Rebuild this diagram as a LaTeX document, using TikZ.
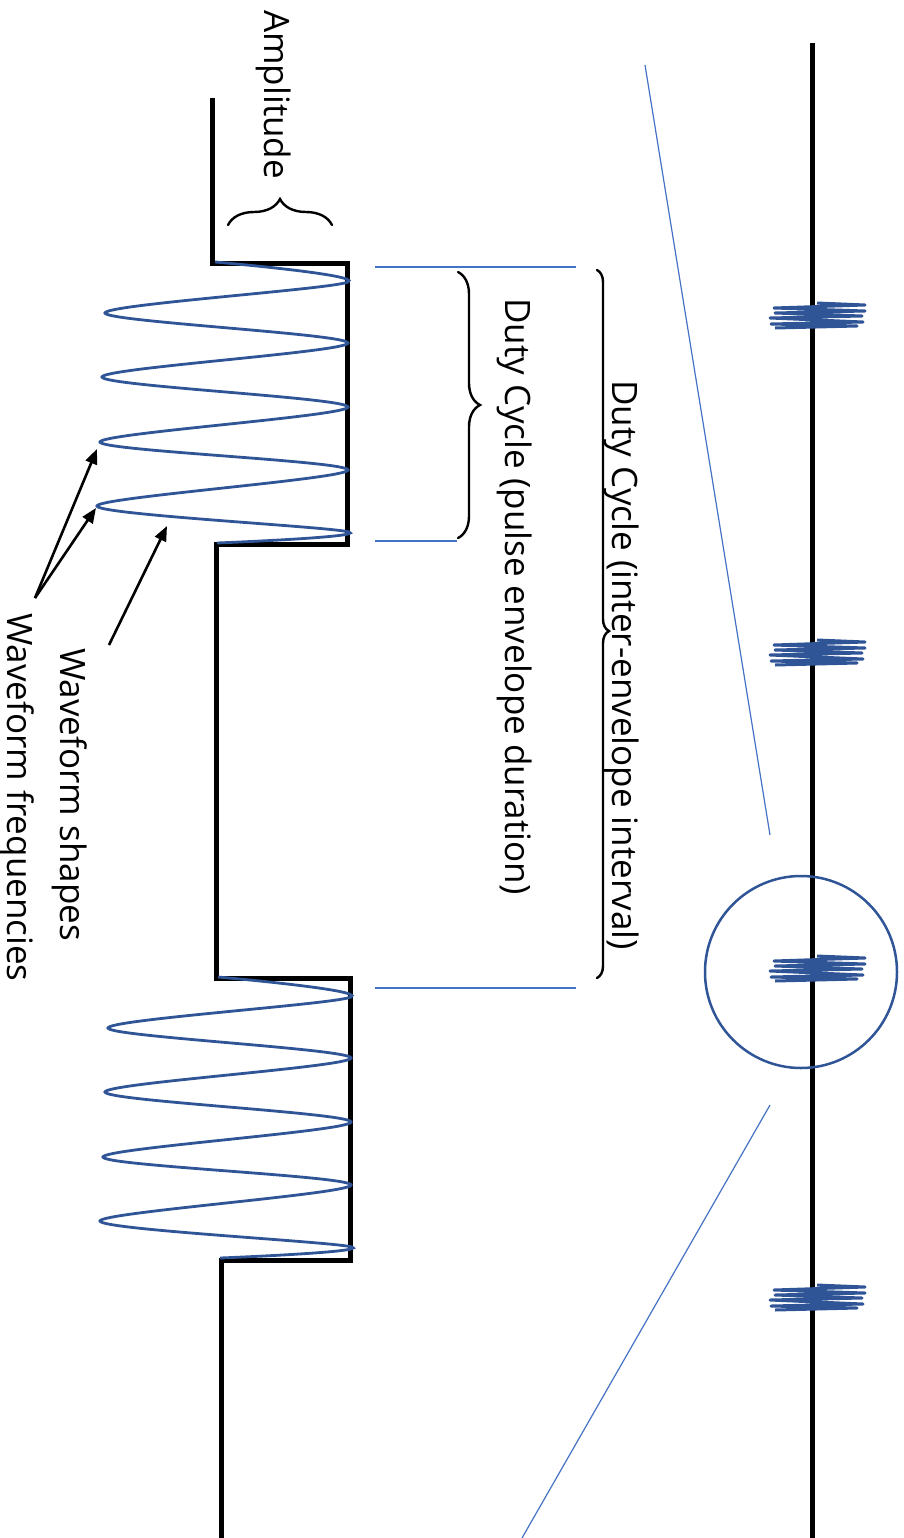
\documentclass[tikz,border=0pt]{standalone}
\usepackage{fontspec}
\setmainfont{Open Sans}
\usepackage{tikz}
\usetikzlibrary{arrows.meta, decorations.pathreplacing}
\usepackage{xcolor}
\definecolor{wavblue}{RGB}{47,85,151}
\definecolor{lineblue}{RGB}{68,114,196}

\begin{document}
\begin{tikzpicture}[x=1pt, y=-1pt,
    sig/.style={line width=5pt},
    wave/.style={wavblue, line width=2.8pt},
    guide/.style={lineblue, line width=1.3pt},
    brc/.style={decorate, line width=2.4pt, line cap=round},
    lbl/.style={rotate=-90, anchor=base west, inner sep=0pt, font=\fontsize{35}{42}\selectfont},
    pointer/.style={-{Triangle[length=15pt,width=12pt]}, line width=2.6pt}]
\useasboundingbox (0,0) rectangle (904,1538);

% pulse train with its carrier
\draw[sig] (212,98) -- (212,263) -- (347,263) -- (347,544) -- (216,544) -- (216,978)
    -- (350,978) -- (350,1260) -- (221,1260) -- (221,1538);
\foreach \dx/\dy in {0/0, 3/715}
  \draw[wave, shift={(\dx,\dy)}] plot[smooth] coordinates {(215,262) (348,282) (105,313)
      (348,343) (102,377) (348,407) (100,442) (348,470) (97,506) (349,532) (217,543)};

% braces
\draw[brc, decoration={brace, amplitude=26pt}] (228,225) -- (332,225);
\draw[brc, decoration={brace, amplitude=22pt}] (458,272) -- (458,538);
\draw[brc, decoration={brace, amplitude=12pt, aspect=0.51}] (597,270) -- (597,978);

\draw[guide] (375,267) -- (576,267);
\draw[guide] (375,541) -- (457,541);
\draw[guide] (375,988) -- (576,988);

% labels
\node[lbl] (amp) at (264,10) {Amplitude};
\node[lbl] (pulse) at (505,298) {Duty Cycle (pulse envelope duration)};
\node[lbl] (inter) at (612,380) {Duty Cycle (inter-envelope interval)};
\node[lbl] (shapes) at (60,648) {Waveform shapes};
\node[lbl] (freqs) at (8,613) {Waveform frequencies};

\coordinate (pk1) at (97,449);
\coordinate (pk2) at (96,508);
\coordinate (pk3) at (167,526);
\draw[pointer] ([yshift=15pt]freqs.north west) -- (pk1);
\draw[pointer] ([yshift=15pt]freqs.north west) -- (pk2);
\draw[pointer] ([xshift=22pt,yshift=3pt]shapes.north west) -- (pk3);

% zoomed-out time line
\draw[line width=5pt] (812,43) -- (812,1538);
\foreach \y in {315,652,968,1297}
  \draw[wave, line width=3pt, line join=round, shift={(0,\y)}] (817,-12) -- (865,-10)
      -- (774,-7) -- (865,-4) -- (775,-2) -- (862,1) -- (770,3) -- (863,7) -- (771,9)
      -- (857,11) -- (775,13);
\coordinate (zc) at (801,972);
\draw[wavblue, line width=2.5pt] (zc) circle[radius=96];
\draw[guide, line width=1.2pt] (645,65) -- (770,835);
\draw[guide, line width=1.2pt] (770,1105) -- (522,1538);
\end{tikzpicture}
\end{document}
